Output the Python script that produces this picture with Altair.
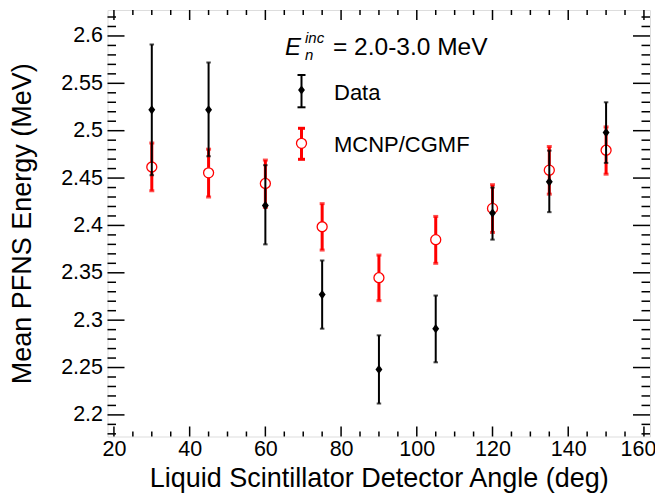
import altair as alt
import pandas as pd

# ---------------- data ----------------
angles = [30, 45, 60, 75, 90, 105, 120, 135, 150]
data_mean = [2.522, 2.522, 2.421, 2.327, 2.248, 2.291, 2.413, 2.446, 2.498]
data_lo = [2.453, 2.473, 2.380, 2.291, 2.212, 2.2555, 2.385, 2.414, 2.466]
data_hi = [2.591, 2.572, 2.4636, 2.363, 2.284, 2.326, 2.440, 2.479, 2.530]
sim_mean = [2.4617, 2.4555, 2.4443, 2.3986, 2.3448, 2.385, 2.418, 2.4583, 2.4794]
sim_lo = [2.4366, 2.430, 2.419, 2.374, 2.3206, 2.360, 2.3926, 2.433, 2.4541]
sim_hi = [2.487, 2.4805, 2.469, 2.423, 2.3687, 2.4095, 2.443, 2.4833, 2.504]

x_major = [20, 40, 60, 80, 100, 120, 140, 160]
x_minor = [25, 30, 35, 45, 50, 55, 65, 70, 75, 85, 90, 95, 105, 110, 115,
           125, 130, 135, 145, 150, 155]
y_major = [2.2, 2.25, 2.3, 2.35, 2.4, 2.45, 2.5, 2.55, 2.6]
y_minor = [2.18, 2.19, 2.21, 2.22, 2.23, 2.24, 2.26, 2.27, 2.28, 2.29,
           2.31, 2.32, 2.33, 2.34, 2.36, 2.37, 2.38, 2.39, 2.41, 2.42,
           2.43, 2.44, 2.46, 2.47, 2.48, 2.49, 2.51, 2.52, 2.53, 2.54,
           2.56, 2.57, 2.58, 2.59, 2.61, 2.62]

x_title = "Liquid Scintillator Detector Angle (deg)"
y_title = "Mean PFNS Energy (MeV)"

# ---------------- layout ----------------
W = 542.5
H = 426.5
FONT = "Liberation Sans"
RED = "#ff0000"

df = pd.DataFrame({"angle": angles, "dmean": data_mean, "dlo": data_lo, "dhi": data_hi,
                   "smean": sim_mean, "slo": sim_lo, "shi": sim_hi})

xscale = alt.Scale(domain=[18.3, 161.6], nice=False, zero=False)
yscale = alt.Scale(domain=[2.1772, 2.6274], nice=False, zero=False)

x_axis = alt.Axis(values=x_major, format="d", ticks=False, tickSize=0, domain=False, grid=False,
                  labelFont=FONT, labelFontSize=21.5, labelColor="black", labelPadding=2,
                  labelOverlap=False, labelBound=False,
                  labelOffset={"condition": {"test": "datum.value == 160", "value": -6},
                               "value": 0},
                  title=x_title, titleFont=FONT, titleFontSize=27, titleFontWeight="normal",
                  titleColor="black", titleX=W / 2, titleY=50.5, titleAlign="center",
                  titleBaseline="alphabetic")
y_axis = alt.Axis(values=y_major, format="~g", ticks=False, tickSize=0, domain=False, grid=False,
                  labelFont=FONT, labelFontSize=21.5, labelColor="black", labelPadding=5,
                  title=y_title, titleFont=FONT, titleFontSize=27, titleFontWeight="normal",
                  titleColor="black", titleX=-77, titleY=H / 2, titleAngle=-90,
                  titleAlign="center", titleBaseline="alphabetic")


def X(field):
    return alt.X(field, type="quantitative", scale=xscale, axis=x_axis)


def Y(field):
    return alt.Y(field, type="quantitative", scale=yscale, axis=y_axis)


base = alt.Chart(df)

# simulation (red) error bars + caps
sim_bar = base.mark_rule(color=RED, strokeWidth=3).encode(x=X("angle"), y=Y("slo"), y2="shi:Q")
sim_cap_hi = base.mark_tick(color=RED, orient="horizontal", size=5, thickness=3).encode(
    x=X("angle"), y=Y("shi"))
sim_cap_lo = base.mark_tick(color=RED, orient="horizontal", size=5, thickness=3).encode(
    x=X("angle"), y=Y("slo"))
sim_pt = base.mark_point(shape="circle", size=100, filled=False, fill="white", fillOpacity=1,
                         color=RED, strokeWidth=1.3, opacity=1).encode(x=X("angle"), y=Y("smean"))

# data (black) error bars + caps
dat_bar = base.mark_rule(color="black", strokeWidth=2).encode(x=X("angle"), y=Y("dlo"), y2="dhi:Q")
dat_cap_hi = base.mark_tick(color="black", orient="horizontal", size=4.5, thickness=2).encode(
    x=X("angle"), y=Y("dhi"))
dat_cap_lo = base.mark_tick(color="black", orient="horizontal", size=4.5, thickness=2).encode(
    x=X("angle"), y=Y("dlo"))
DIAMOND = "M0,-1L0.75,0L0,1L-0.75,0Z"
dat_pt = base.mark_point(shape=DIAMOND, size=85, filled=True, color="black", opacity=1).encode(
    x=X("angle"), y=Y("dmean"))

# inward ROOT-style ticks on all four sides
xmaj = alt.Chart(pd.DataFrame({"v": x_major}))
xmin = alt.Chart(pd.DataFrame({"v": x_minor}))
ymaj = alt.Chart(pd.DataFrame({"v": y_major}))
ymin = alt.Chart(pd.DataFrame({"v": y_minor}))
TW = 1.5
tick_layers = []
for src, ln in ((xmaj, 10), (xmin, 5)):
    tick_layers.append(src.mark_rule(color="black", strokeWidth=TW).encode(
        x=X("v"), y=alt.value(H), y2=alt.value(H - ln)))
    tick_layers.append(src.mark_rule(color="black", strokeWidth=TW).encode(
        x=X("v"), y=alt.value(0), y2=alt.value(ln)))
for src, ln in ((ymaj, 17), (ymin, 8.5)):
    tick_layers.append(src.mark_rule(color="black", strokeWidth=TW).encode(
        y=Y("v"), x=alt.value(0), x2=alt.value(ln)))
    tick_layers.append(src.mark_rule(color="black", strokeWidth=TW).encode(
        y=Y("v"), x=alt.value(W), x2=alt.value(W - ln)))

# ---------------- legend / annotation ----------------
one = alt.Chart(pd.DataFrame({"k": [0]}))
LX = 194
leg = [
    # Data entry
    one.mark_rule(color="black", strokeWidth=2).encode(
        x=alt.value(LX), y=alt.value(65), y2=alt.value(97.3)),
    one.mark_rule(color="black", strokeWidth=2).encode(
        x=alt.value(LX - 4), x2=alt.value(LX + 4), y=alt.value(65)),
    one.mark_rule(color="black", strokeWidth=2).encode(
        x=alt.value(LX - 4), x2=alt.value(LX + 4), y=alt.value(97.3)),
    one.mark_point(shape=DIAMOND, size=85, filled=True, color="black", opacity=1).encode(
        x=alt.value(LX), y=alt.value(80)),
    # MCNP entry
    one.mark_rule(color=RED, strokeWidth=3).encode(
        x=alt.value(LX), y=alt.value(118.3), y2=alt.value(149.3)),
    one.mark_rule(color=RED, strokeWidth=3).encode(
        x=alt.value(LX - 3.5), x2=alt.value(LX + 3.5), y=alt.value(118.3)),
    one.mark_rule(color=RED, strokeWidth=3).encode(
        x=alt.value(LX - 3.5), x2=alt.value(LX + 3.5), y=alt.value(149.3)),
    one.mark_point(shape="circle", size=100, filled=False, fill="white", fillOpacity=1,
                   color=RED, strokeWidth=1.3, opacity=1).encode(
        x=alt.value(LX), y=alt.value(133.3)),
    one.mark_text(text="Data", font=FONT, fontSize=22, align="left", baseline="alphabetic",
                  color="black").encode(x=alt.value(226.5), y=alt.value(90)),
    one.mark_text(text="MCNP/CGMF", font=FONT, fontSize=22, align="left",
                  baseline="alphabetic", color="black").encode(x=alt.value(226.5), y=alt.value(141.7)),
    # header E_n^inc = 2.0-3.0 MeV
    one.mark_text(text="E", font=FONT, fontSize=24, fontStyle="italic", align="left",
                  baseline="alphabetic", color="black").encode(x=alt.value(177.5), y=alt.value(45)),
    one.mark_text(text="inc", font=FONT, fontSize=15, fontStyle="italic", align="left",
                  baseline="alphabetic", color="black").encode(x=alt.value(197.5), y=alt.value(33)),
    one.mark_text(text="n", font=FONT, fontSize=15, fontStyle="italic", align="left",
                  baseline="alphabetic", color="black").encode(x=alt.value(197.5), y=alt.value(50)),
    one.mark_text(text="= 2.0-3.0 MeV", font=FONT, fontSize=24.5, align="left",
                  baseline="alphabetic", color="black").encode(x=alt.value(225.5), y=alt.value(45)),
]

chart = alt.layer(
    sim_bar, sim_cap_hi, sim_cap_lo, sim_pt,
    dat_bar, dat_cap_hi, dat_cap_lo, dat_pt,
    *tick_layers, *leg
).properties(
    width=W, height=H,
    padding={"left": 99.5, "top": 2, "right": 5, "bottom": 57.3},
    autosize=alt.AutoSizeParams(type="none"),
).configure_view(
    stroke="black", strokeWidth=2, fill="white"
).configure(background="white")

chart.save("out.html", embed_options={"renderer": "svg", "actions": False})
